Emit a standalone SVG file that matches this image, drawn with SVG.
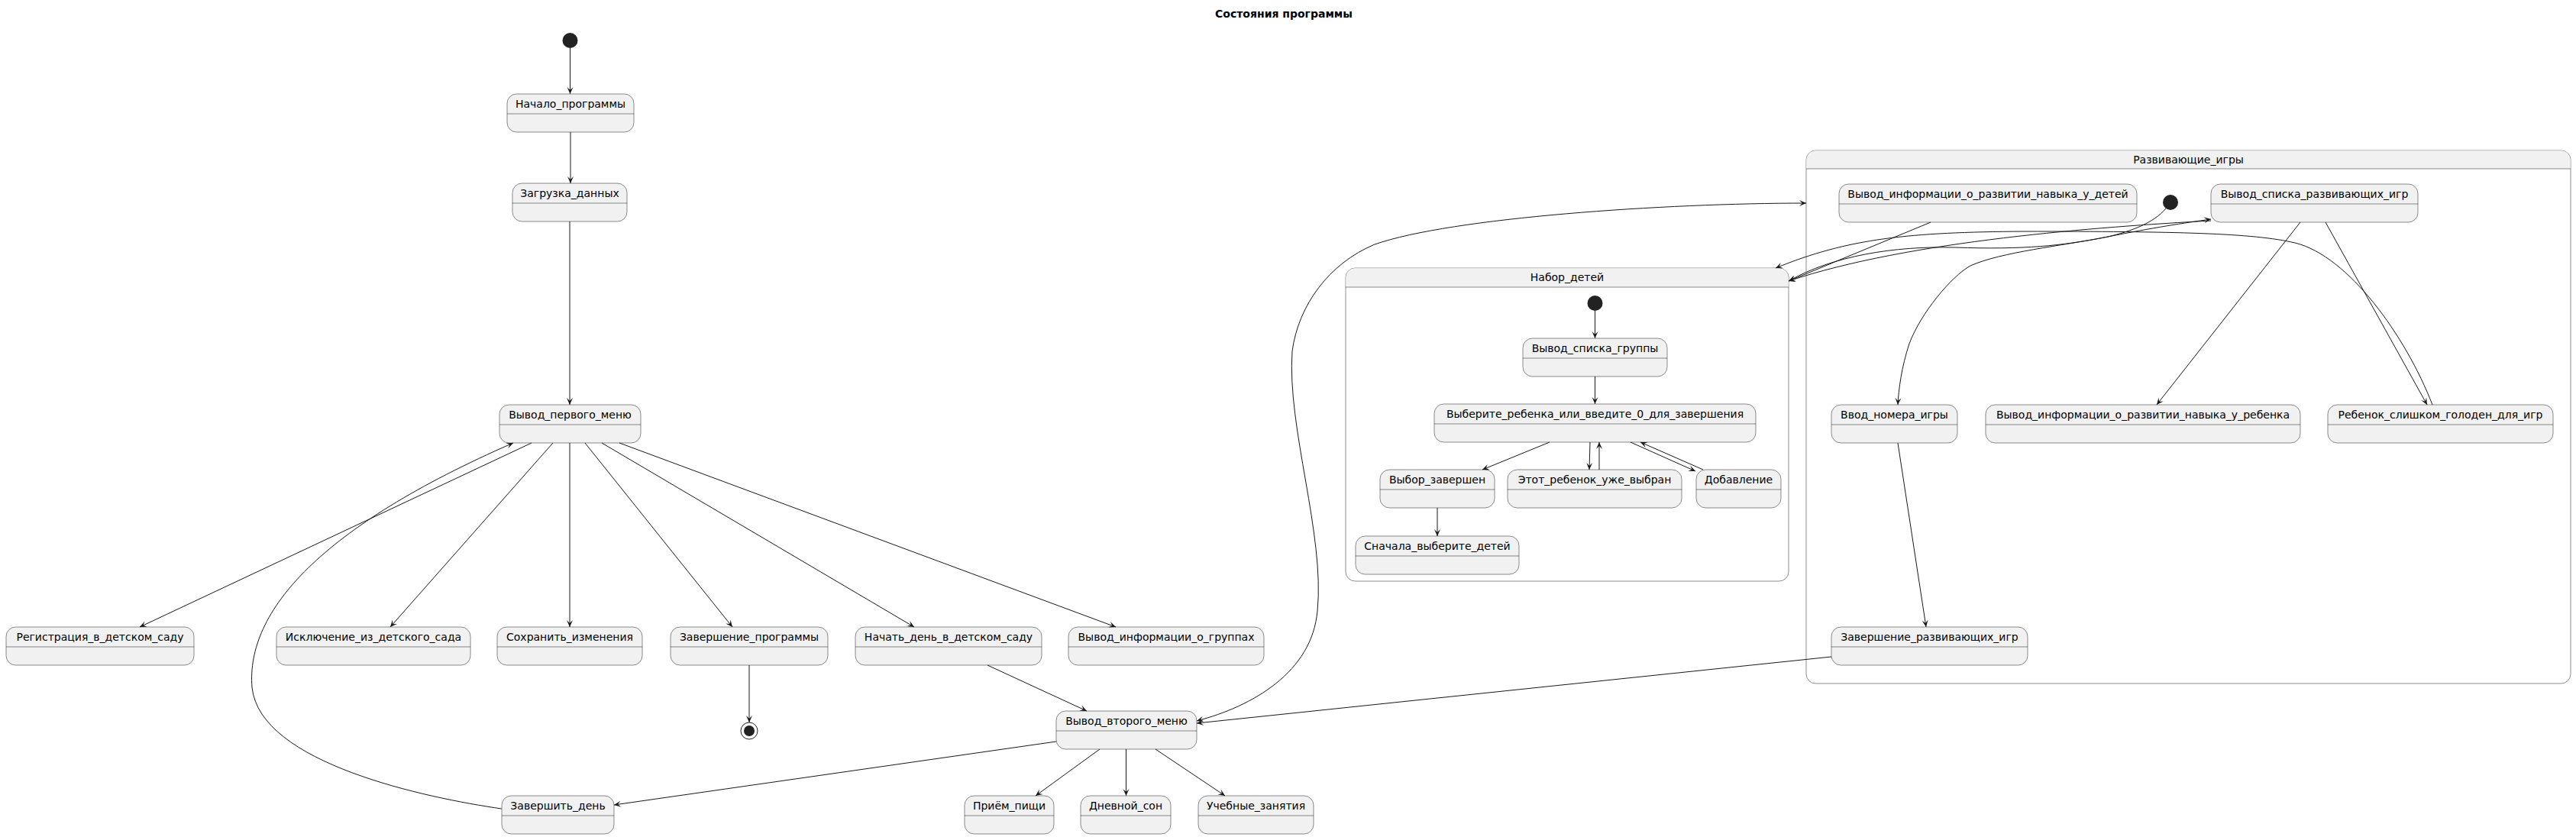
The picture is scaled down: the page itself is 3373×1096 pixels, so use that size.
<svg xmlns="http://www.w3.org/2000/svg" width="3373" height="1096" viewBox="0 0 3373 1096">
<style>
.st{fill:#F1F1F1;stroke:#181818;stroke-width:0.5}
.cont{fill:#FFFFFF;stroke:#181818;stroke-width:0.5}
.hdr{fill:#F1F1F1;stroke:none}
.div{stroke:#181818;stroke-width:0.5}
.lbl{font-family:"DejaVu Sans","Liberation Sans",sans-serif;font-size:14px;text-anchor:middle;fill:#000000}
.title{font-family:"DejaVu Sans","Liberation Sans",sans-serif;font-size:14px;font-weight:bold;text-anchor:middle;fill:#000000}
.edge{fill:none;stroke:#181818;stroke-width:1;marker-end:url(#arr)}
.both{marker-start:url(#arrs)}
.init{fill:#222222}
</style>
<defs>
<marker id="arr" viewBox="-10 -5 11 10" refX="0" refY="0" markerWidth="11" markerHeight="10" markerUnits="userSpaceOnUse" orient="auto">
<path d="M0,0 L-9,-4 L-5,0 L-9,4 Z" fill="#181818"/>
</marker>
<marker id="arrs" viewBox="-10 -5 11 10" refX="0" refY="0" markerWidth="11" markerHeight="10" markerUnits="userSpaceOnUse" orient="auto-start-reverse">
<path d="M0,0 L-9,-4 L-5,0 L-9,4 Z" fill="#181818"/>
</marker>
</defs>
<rect x="0" y="0" width="3373" height="1096" fill="#FFFFFF"/>
<text class="title" x="1681" y="23">Состояния программы</text>

<!-- composite states -->
<g id="nabor_detei">
<rect class="cont" x="1762" y="351" width="580" height="410" rx="12.5"/>
<path class="hdr" d="M1762.3,376 V363.5 A12.5,12.5 0 0 1 1774.5,351.3 H2329.5 A12.5,12.5 0 0 1 2341.7,363.5 V376 Z"/>
<line class="div" x1="1762" y1="376" x2="2342" y2="376"/>
<text class="lbl" x="2052" y="368">Набор_детей</text>
</g>
<g id="razv_igry">
<rect class="cont" x="2365" y="197" width="1001" height="698" rx="12.5"/>
<path class="hdr" d="M2365.3,221 V209.5 A12.5,12.5 0 0 1 2377.5,197.3 H3353.5 A12.5,12.5 0 0 1 3365.7,209.5 V221 Z"/>
<line class="div" x1="2365" y1="221" x2="3366" y2="221"/>
<text class="lbl" x="2865.5" y="214">Развивающие_игры</text>
</g>

<!-- pseudo states -->
<g id="start_main"><circle class="init" cx="746.5" cy="53" r="10"/></g>
<g id="end_main"><circle cx="981" cy="957" r="11" fill="none" stroke="#222222" stroke-width="1"/><circle class="init" cx="981" cy="957" r="7"/></g>
<g id="start_nabor"><circle class="init" cx="2088.5" cy="397" r="10"/></g>
<g id="start_razv"><circle class="init" cx="2842" cy="265" r="10"/></g>

<!-- simple states -->
<g id="nachalo"><rect class="st" x="664" y="123" width="166" height="50" rx="12.5"/><line class="div" x1="664" y1="149" x2="830" y2="149"/><text class="lbl" x="747" y="141">Начало_программы</text></g>
<g id="zagruzka"><rect class="st" x="671" y="240" width="150" height="50" rx="12.5"/><line class="div" x1="671" y1="266" x2="821" y2="266"/><text class="lbl" x="746" y="258">Загрузка_данных</text></g>
<g id="menu1"><rect class="st" x="654" y="530" width="185" height="50" rx="12.5"/><line class="div" x1="654" y1="556" x2="839" y2="556"/><text class="lbl" x="746.5" y="548">Вывод_первого_меню</text></g>
<g id="registr"><rect class="st" x="8" y="821" width="246" height="50" rx="12.5"/><line class="div" x1="8" y1="847" x2="254" y2="847"/><text class="lbl" x="131" y="839">Регистрация_в_детском_саду</text></g>
<g id="iskl"><rect class="st" x="362" y="821" width="254" height="50" rx="12.5"/><line class="div" x1="362" y1="847" x2="616" y2="847"/><text class="lbl" x="489" y="839">Исключение_из_детского_сада</text></g>
<g id="sohr"><rect class="st" x="651" y="821" width="190" height="50" rx="12.5"/><line class="div" x1="651" y1="847" x2="841" y2="847"/><text class="lbl" x="746" y="839">Сохранить_изменения</text></g>
<g id="zaversh_prog"><rect class="st" x="878" y="821" width="206" height="50" rx="12.5"/><line class="div" x1="878" y1="847" x2="1084" y2="847"/><text class="lbl" x="981" y="839">Завершение_программы</text></g>
<g id="nachat_den"><rect class="st" x="1120" y="821" width="244" height="50" rx="12.5"/><line class="div" x1="1120" y1="847" x2="1364" y2="847"/><text class="lbl" x="1242" y="839">Начать_день_в_детском_саду</text></g>
<g id="info_grupp"><rect class="st" x="1399" y="821" width="256" height="50" rx="12.5"/><line class="div" x1="1399" y1="847" x2="1655" y2="847"/><text class="lbl" x="1527" y="839">Вывод_информации_о_группах</text></g>
<g id="menu2"><rect class="st" x="1383" y="931" width="184" height="50" rx="12.5"/><line class="div" x1="1383" y1="957" x2="1567" y2="957"/><text class="lbl" x="1475" y="949">Вывод_второго_меню</text></g>
<g id="priem"><rect class="st" x="1263" y="1042" width="117" height="50" rx="12.5"/><line class="div" x1="1263" y1="1068" x2="1380" y2="1068"/><text class="lbl" x="1321.5" y="1060">Приём_пищи</text></g>
<g id="son"><rect class="st" x="1415" y="1042" width="118" height="50" rx="12.5"/><line class="div" x1="1415" y1="1068" x2="1533" y2="1068"/><text class="lbl" x="1474" y="1060">Дневной_сон</text></g>
<g id="ucheb"><rect class="st" x="1569" y="1042" width="151" height="50" rx="12.5"/><line class="div" x1="1569" y1="1068" x2="1720" y2="1068"/><text class="lbl" x="1644.5" y="1060">Учебные_занятия</text></g>
<g id="zavershit_den"><rect class="st" x="657" y="1042" width="147" height="50" rx="12.5"/><line class="div" x1="657" y1="1068" x2="804" y2="1068"/><text class="lbl" x="730.5" y="1060">Завершить_день</text></g>

<g id="spisok_gruppy"><rect class="st" x="1994" y="443" width="189" height="50" rx="12.5"/><line class="div" x1="1994" y1="469" x2="2183" y2="469"/><text class="lbl" x="2088.5" y="461">Вывод_списка_группы</text></g>
<g id="vyberite"><rect class="st" x="1878" y="529" width="421" height="50" rx="12.5"/><line class="div" x1="1878" y1="555" x2="2299" y2="555"/><text class="lbl" x="2088.5" y="547">Выберите_ребенка_или_введите_0_для_завершения</text></g>
<g id="vybor_zav"><rect class="st" x="1807" y="615" width="150" height="50" rx="12.5"/><line class="div" x1="1807" y1="641" x2="1957" y2="641"/><text class="lbl" x="1882" y="633">Выбор_завершен</text></g>
<g id="uzhe_vybran"><rect class="st" x="1974" y="615" width="228" height="50" rx="12.5"/><line class="div" x1="1974" y1="641" x2="2202" y2="641"/><text class="lbl" x="2088" y="633">Этот_ребенок_уже_выбран</text></g>
<g id="dobavlenie"><rect class="st" x="2221" y="615" width="111" height="50" rx="12.5"/><line class="div" x1="2221" y1="641" x2="2332" y2="641"/><text class="lbl" x="2276.5" y="633">Добавление</text></g>
<g id="snachala"><rect class="st" x="1775" y="702" width="214" height="50" rx="12.5"/><line class="div" x1="1775" y1="728" x2="1989" y2="728"/><text class="lbl" x="1882" y="720">Сначала_выберите_детей</text></g>

<g id="info_deti"><rect class="st" x="2408" y="241" width="390" height="50" rx="12.5"/><line class="div" x1="2408" y1="267" x2="2798" y2="267"/><text class="lbl" x="2603" y="259">Вывод_информации_о_развитии_навыка_у_детей</text></g>
<g id="spisok_igr"><rect class="st" x="2895" y="241" width="271" height="50" rx="12.5"/><line class="div" x1="2895" y1="267" x2="3166" y2="267"/><text class="lbl" x="3030.5" y="259">Вывод_списка_развивающих_игр</text></g>
<g id="vvod_nomera"><rect class="st" x="2398" y="530" width="165" height="50" rx="12.5"/><line class="div" x1="2398" y1="556" x2="2563" y2="556"/><text class="lbl" x="2480.5" y="548">Ввод_номера_игры</text></g>
<g id="info_rebenok"><rect class="st" x="2600" y="530" width="412" height="50" rx="12.5"/><line class="div" x1="2600" y1="556" x2="3012" y2="556"/><text class="lbl" x="2806" y="548">Вывод_информации_о_развитии_навыка_у_ребенка</text></g>
<g id="golоden"><rect class="st" x="3048" y="530" width="295" height="50" rx="12.5"/><line class="div" x1="3048" y1="556" x2="3343" y2="556"/><text class="lbl" x="3195.5" y="548">Ребенок_слишком_голоден_для_игр</text></g>
<g id="zaversh_igr"><rect class="st" x="2398" y="821" width="257" height="50" rx="12.5"/><line class="div" x1="2398" y1="847" x2="2655" y2="847"/><text class="lbl" x="2526.5" y="839">Завершение_развивающих_игр</text></g>

<!-- connectors -->
<g id="connectors">
<path class="edge" d="M746.5,63 L746.5,123"/>
<path class="edge" d="M747,173 L747,240"/>
<path class="edge" d="M746,290 L746,530"/>
<path class="edge" d="M696,580 L183,821"/>
<path class="edge" d="M724,580 L511,821"/>
<path class="edge" d="M746,580 L746,821"/>
<path class="edge" d="M766,580 L959,821"/>
<path class="edge" d="M788,580 L1197,821"/>
<path class="edge" d="M811,580 L1461,821"/>
<path class="edge" d="M981,871 L981,946"/>
<path class="edge" d="M1293,871 L1423,931"/>
<path class="edge" d="M1440,981 L1356,1042"/>
<path class="edge" d="M1474.5,981 L1474.5,1042"/>
<path class="edge" d="M1513,981 L1604,1042"/>
<path class="edge" d="M1383,971 L804,1054"/>
<path class="edge" d="M656.7,1059 C560,1045 340,1000 330,900 C322,800 420,690 672,580"/>
<path class="edge both" d="M1567,944 C1640,925 1718,880 1725,800 C1735,700 1685,560 1692,460 C1700,400 1740,345 1800,320 C1900,285 2180,266 2365,266"/>
<path class="edge" d="M2398,860 L1567,947"/>
<path class="edge" d="M2088.5,407 L2088.5,443"/>
<path class="edge" d="M2088.5,493 L2088.5,529"/>
<path class="edge" d="M2029,579 L1941,615"/>
<path class="edge" d="M2082,579 L2081,615"/>
<path class="edge" d="M2094,615 L2094,579"/>
<path class="edge" d="M2135,579 L2220,617"/>
<path class="edge" d="M2230,615 L2148,579"/>
<path class="edge" d="M1882,665 L1882,702"/>
<path class="edge" d="M2528,291 L2342,368"/>
<path class="edge" d="M3185,530 C3150,440 3075,335 3005,318 C2950,305 2850,303 2650,303 C2500,304 2420,312 2325,351"/>
<path class="edge" d="M3045,291 L3178,530"/>
<path class="edge" d="M3012,291 L2824,530"/>
<path class="edge" d="M2485,580 L2522,821"/>
<path class="edge" d="M2836,273 C2820,292 2790,303 2760,310 C2700,322 2620,330 2580,348 C2555,362 2515,410 2500,450 C2490,480 2486,510 2485,530"/>
<path class="edge" d="M2342,368 C2400,335 2480,322 2560,324 C2650,327 2700,322 2760,310 C2820,298 2860,292 2895,287"/>
<path class="edge" d="M2895,289 C2750,297 2500,315 2342,368"/>
</g>
</svg>
